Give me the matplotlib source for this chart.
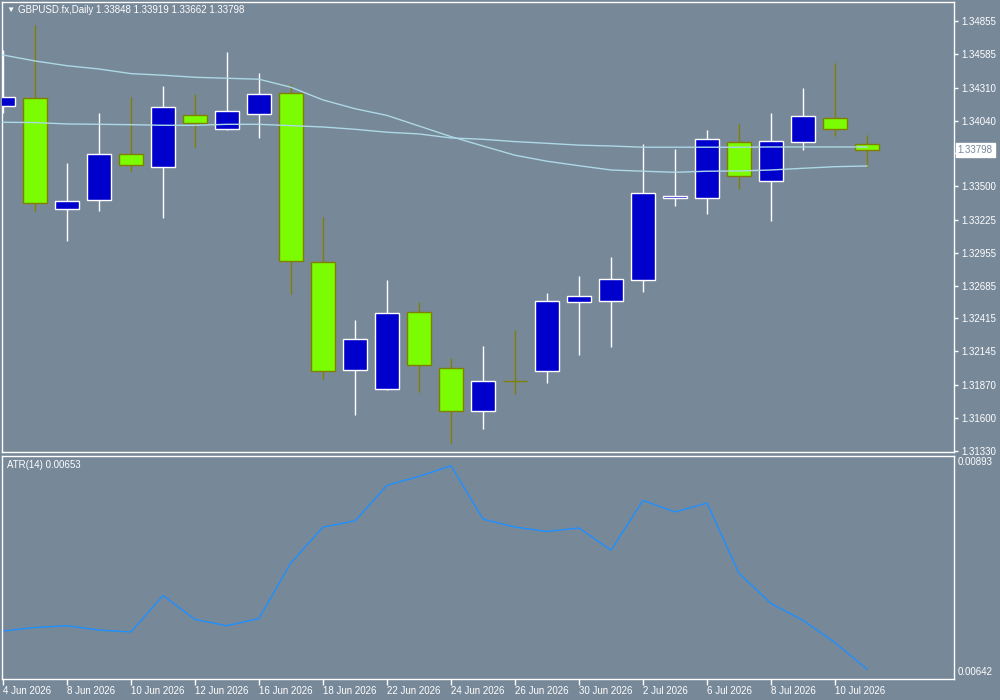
#GBPUSD daily chart with ATR(14) sub-window

import matplotlib.pyplot as plt
from matplotlib.patches import Rectangle
from matplotlib.transforms import blended_transform_factory

symbol = "GBPUSD.fx,Daily"

opens = [1.34157, 1.34223, 1.33312, 1.33385, 1.33763, 1.33656, 1.34083, 1.33973, 1.34092, 1.34264,
         1.32876, 1.31990, 1.31834, 1.32466, 1.32006, 1.31653, 1.31905, 1.31982, 1.32548, 1.32556,
         1.32729, 1.33402, 1.33402, 1.33862, 1.33541, 1.33862, 1.34059, 1.33848]
highs = [1.34619, 1.34825, 1.33692, 1.34100, 1.34234, 1.34324, 1.34258, 1.34603, 1.34431, 1.34340,
         1.33248, 1.32403, 1.32731, 1.32550, 1.32091, 1.32189, 1.32321, 1.32624, 1.32764, 1.32920,
         1.33848, 1.33807, 1.33963, 1.34012, 1.34102, 1.34307, 1.34513, 1.33919]
lows = [1.34102, 1.33300, 1.33054, 1.33300, 1.33628, 1.33243, 1.33826, 1.33965, 1.33899, 1.32619,
        1.31921, 1.31625, 1.31828, 1.31814, 1.31395, 1.31510, 1.31798, 1.31888, 1.32118, 1.32184,
        1.32635, 1.33341, 1.33275, 1.33481, 1.33218, 1.33801, 1.33916, 1.33662]
closes = [1.34231, 1.33361, 1.33377, 1.33763, 1.33673, 1.34149, 1.34018, 1.34116, 1.34256, 1.32885,
          1.31982, 1.32244, 1.32458, 1.32031, 1.31653, 1.31899, 1.31902, 1.32556, 1.32597, 1.32737,
          1.33443, 1.33418, 1.33886, 1.33582, 1.33870, 1.34075, 1.33968, 1.33798]

# moving averages
ma_fast = [1.34578, 1.34529, 1.34490, 1.34463, 1.34425, 1.34412, 1.34395, 1.34387, 1.34379, 1.34313,
           1.34209, 1.34137, 1.34082, 1.33995, 1.33908, 1.33831, 1.33755, 1.33706, 1.33669, 1.33634,
           1.33624, 1.33615, 1.33624, 1.33626, 1.33634, 1.33648, 1.33661, 1.33667]
ma_slow = [1.34026, 1.34023, 1.34012, 1.34009, 1.34006, 1.34001, 1.34001, 1.34009, 1.34009, 1.33998,
           1.33987, 1.33968, 1.33944, 1.33930, 1.33897, 1.33886, 1.33867, 1.33853, 1.33838, 1.33831,
           1.33821, 1.33821, 1.33821, 1.33821, 1.33823, 1.33823, 1.33823, 1.33823]

atr = [0.00696, 0.00700, 0.00702, 0.00697, 0.00695, 0.00736, 0.00709, 0.00702, 0.00710, 0.00773,
       0.00813, 0.00820, 0.00860, 0.00870, 0.00882, 0.00822, 0.00813, 0.00808, 0.00812, 0.00787,
       0.00843, 0.00830, 0.00840, 0.00761, 0.00727, 0.00708, 0.00683, 0.00653]

price_ticks = [1.34855, 1.34585, 1.34310, 1.34040, 1.33770, 1.33500, 1.33225, 1.32955,
               1.32685, 1.32415, 1.32145, 1.31870, 1.31600, 1.31330]
atr_max = 0.00893
atr_min = 0.00642

date_ticks = list(range(0, 28, 2))
date_labels = ["4 Jun 2026", "8 Jun 2026", "10 Jun 2026", "12 Jun 2026", "16 Jun 2026",
               "18 Jun 2026", "22 Jun 2026", "24 Jun 2026", "26 Jun 2026", "30 Jun 2026",
               "2 Jul 2026", "6 Jul 2026", "8 Jul 2026", "10 Jul 2026"]

BG = '#778899'
FS = 7
plt.rcParams['font.family'] = ['Liberation Sans', 'DejaVu Sans']

fig = plt.figure(figsize=(10, 7), dpi=100, facecolor=BG)
ax = fig.add_axes([0.002, 1 - 452 / 700, 0.952, 450 / 700])
ax2 = fig.add_axes([0.002, 1 - 679 / 700, 0.952, 223 / 700])

for a in (ax, ax2):
    a.set_facecolor(BG)
    for s in a.spines.values():
        s.set_color('white')
        s.set_linewidth(1)
    a.set_xlim(-1 / 32, 951 / 32)

# candles
for i in range(len(opens)):
    o, h, l, c = opens[i], highs[i], lows[i], closes[i]
    if c > o:
        fill, edge = '#0000cd', 'white'
    else:
        fill, edge = '#7cfc00', '#808000'
    ax.vlines(i, l, h, color=edge, lw=1, zorder=2)
    ax.add_patch(Rectangle((i - 0.375, min(o, c)), 0.75, abs(c - o),
                           facecolor=fill, edgecolor=edge, lw=1, zorder=3))

x = list(range(len(opens)))
ax.plot(x, ma_fast, color='#add8e6', lw=1, zorder=4)
ax.plot(x, ma_slow, color='#add8e6', lw=1, zorder=4)

ax.set_ylim(1.31319, 1.35013)
ax.yaxis.tick_right()
ax.set_yticks(price_ticks)
# the 1.33770 label sits under the current price box
ax.set_yticklabels(["" if abs(t - closes[-1]) < 0.0005 else "%.5f" % t for t in price_ticks])
ax.tick_params(axis='y', colors='white', length=3, width=1, pad=2, labelsize=FS)
ax.set_xticks([])

# current price box
tr = blended_transform_factory(ax.transAxes, ax.transData)
ax.text(1.004, closes[-1], "%.5f" % closes[-1], transform=tr, fontsize=FS, color=BG,
        va='center', ha='left', zorder=10,
        bbox=dict(boxstyle='square,pad=0.2', facecolor='white', edgecolor='white'))

fig.text(0.006, 1 - 10 / 700, "\u25bc", color='white', fontsize=6, va='center', ha='left')
fig.text(0.018, 1 - 10 / 700,
         "%s %.5f %.5f %.5f %.5f" % (symbol, opens[-1], highs[-1], lows[-1], closes[-1]),
         color='white', fontsize=FS, va='center', ha='left')

# ATR window
ax2.plot(x, atr, color='#1e90ff', lw=1)
ax2.set_ylim(atr_min, atr_max)
ax2.set_yticks([])
ax2.set_xticks(date_ticks)
ax2.set_xticklabels(date_labels, ha='left')
ax2.tick_params(axis='x', colors='white', length=4, width=1, pad=1, labelsize=FS)

fig.text(0.007, 1 - 465 / 700, "ATR(14) %.5f" % atr[-1], color='white', fontsize=FS,
         va='center', ha='left')
fig.text(0.958, 1 - 462 / 700, "%.5f" % atr_max, color='white', fontsize=FS, va='center', ha='left')
fig.text(0.958, 1 - 672 / 700, "%.5f" % atr_min, color='white', fontsize=FS, va='center', ha='left')

plt.savefig("out.png", dpi=100, facecolor=BG)
